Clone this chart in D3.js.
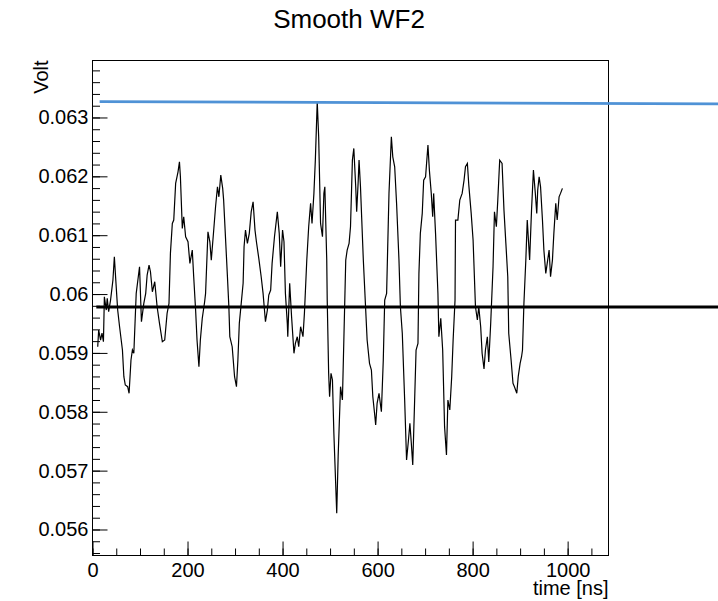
<!DOCTYPE html>
<head>
<meta charset="utf-8">
<style>
body {
    margin: 0;
    background: #fff;
}
text {
    font-family: "Liberation Sans", Arial, Helvetica, sans-serif;
    fill: #000;
}
.tick line {
    stroke: #000;
}
.domain {
    display: none;
}
</style>
</head>
<body>
<div class="wf-viz"></div>

<script src="https://d3js.org/d3.v7.min.js"></script>
<script>
// smoothed waveform, time in ns and amplitude in volt
const timeNs = [
    11, 13, 17, 20, 23, 25, 29, 31, 34, 38,
    43, 46, 49, 53, 57, 63, 66, 69, 74, 77,
    81, 84, 87, 92, 99, 103, 108, 112, 115, 119,
    122, 126, 131, 136, 141, 147, 152, 157, 161, 164,
    168, 171, 175, 180, 183, 185, 189, 192, 196, 201,
    205, 210, 213, 217, 220, 224, 227, 231, 236, 238,
    243, 247, 250, 254, 259, 263, 266, 270, 274, 276,
    284, 287, 289, 294, 299, 303, 306, 309, 313, 317,
    319, 322, 326, 330, 334, 338, 342, 345, 350, 355,
    359, 364, 368, 371, 375, 378, 383, 389, 393, 396,
    400, 403, 406, 410, 411, 415, 419, 424, 427, 431,
    434, 438, 443, 446, 451, 455, 459, 462, 466, 469,
    473, 476, 480, 484, 487, 489, 493, 494, 497, 499,
    502, 505, 508, 514, 517, 522, 526, 529, 533, 536,
    540, 543, 547, 550, 554, 556, 559, 561, 564, 570,
    575, 578, 583, 587, 590, 594, 596, 599, 603, 608,
    612, 615, 619, 624, 629, 632, 636, 640, 645, 648,
    652, 657, 661, 665, 668, 671, 674, 678, 681, 685,
    687, 690, 694, 697, 701, 706, 709, 713, 716, 718,
    722, 727, 729, 733, 737, 741, 745, 748, 752, 756,
    759, 763, 764, 769, 773, 778, 782, 785, 789, 792,
    797, 801, 806, 810, 813, 817, 820, 824, 827, 831,
    834, 838, 843, 846, 850, 853, 857, 862, 866, 870,
    874, 876, 881, 885, 888, 893, 896, 900, 903, 905,
    908, 912, 915, 920, 924, 928, 932, 935, 937, 940,
    943, 947, 950, 954, 957, 961, 964, 968, 971, 975,
    978, 982, 985, 989
];
const volts = [
    0.059105, 0.059389, 0.059219, 0.059338, 0.05919, 0.059954, 0.059728, 0.059927, 0.0597, 0.059898,
    0.060238, 0.060633, 0.060238, 0.059728, 0.059445, 0.059049, 0.058596, 0.058455, 0.058426, 0.058314,
    0.058879, 0.059049, 0.058993, 0.060012, 0.060464, 0.05953, 0.059842, 0.060012, 0.060323, 0.060492,
    0.060379, 0.060039, 0.060209, 0.059784, 0.059502, 0.05919, 0.059219, 0.059672, 0.059842, 0.060691,
    0.0612, 0.061257, 0.06188, 0.062077, 0.062246, 0.061992, 0.061116, 0.061313, 0.060973, 0.060888,
    0.060521, 0.060747, 0.060294, 0.059728, 0.059219, 0.058766, 0.059219, 0.059587, 0.059869, 0.060012,
    0.061058, 0.060888, 0.060577, 0.060973, 0.061482, 0.061822, 0.061652, 0.062021, 0.061795, 0.061596,
    0.060294, 0.059784, 0.059275, 0.059105, 0.058596, 0.058426, 0.058879, 0.059502, 0.059842, 0.060182,
    0.060803, 0.061087, 0.060861, 0.061031, 0.061397, 0.061567, 0.061087, 0.060888, 0.060606, 0.060294,
    0.060012, 0.05953, 0.059728, 0.059983, 0.060068, 0.060521, 0.060973, 0.061397, 0.061031, 0.060464,
    0.061087, 0.060888, 0.060012, 0.059502, 0.059275, 0.060182, 0.059615, 0.058993, 0.059163, 0.059275,
    0.059105, 0.059445, 0.059275, 0.059672, 0.060577, 0.061143, 0.06154, 0.0612, 0.06171, 0.062275,
    0.063265, 0.062671, 0.0612, 0.060973, 0.06171, 0.061822, 0.060577, 0.059898, 0.058653, 0.058256,
    0.058653, 0.05854, 0.057635, 0.056276, 0.057237, 0.058426, 0.0582, 0.059219, 0.060577, 0.060747,
    0.060861, 0.061143, 0.062275, 0.062474, 0.061822, 0.061397, 0.06188, 0.062275, 0.061822, 0.060577,
    0.059728, 0.059219, 0.058823, 0.05871, 0.058256, 0.057945, 0.057776, 0.058144, 0.058314, 0.058001,
    0.058879, 0.059898, 0.060012, 0.06171, 0.062671, 0.062331, 0.062162, 0.06154, 0.060577, 0.059784,
    0.059333, 0.0582, 0.057181, 0.057521, 0.057805, 0.057465, 0.057096, 0.0582, 0.059049, 0.059163,
    0.060351, 0.061031, 0.06137, 0.061936, 0.061992, 0.06253, 0.062106, 0.06171, 0.061313, 0.06171,
    0.061031, 0.060012, 0.059275, 0.059587, 0.059049, 0.057747, 0.057266, 0.0582, 0.05803, 0.058596,
    0.059219, 0.059898, 0.061257, 0.061257, 0.061596, 0.06171, 0.061936, 0.062162, 0.062219, 0.061851,
    0.06137, 0.060917, 0.059784, 0.059559, 0.059784, 0.059445, 0.058993, 0.058726, 0.059049, 0.059275,
    0.058845, 0.059491, 0.060464, 0.061397, 0.061143, 0.061596, 0.062275, 0.062219, 0.061426, 0.060861,
    0.060294, 0.059333, 0.058879, 0.058484, 0.058426, 0.058314, 0.058596, 0.058823, 0.058935, 0.059049,
    0.059842, 0.060577, 0.061257, 0.060577, 0.061426, 0.062106, 0.06171, 0.06137, 0.061766, 0.061992,
    0.061822, 0.061257, 0.060747, 0.060351, 0.060521, 0.060747, 0.060294, 0.060577, 0.061031, 0.06154,
    0.061257, 0.061652, 0.06171, 0.061795
];

// reference lines (start/end in ns, level in volt)
const maxLineT = [15, 1400];
const maxLineV = [0.06327, 0.063229];
const baseLineT = [8, 1400];
const baseLineV = [0.059779, 0.059779];

// axis ticks
const xMajor = [0, 200, 400, 600, 800, 1000];
const yMajor = [0.056, 0.057, 0.058, 0.059, 0.06, 0.061, 0.062, 0.063];

const W = 718, H = 601;
const frame = { left: 92.5, right: 608.5, top: 60.5, bottom: 555.5 };

const svg = d3.select(".wf-viz")
              .append("svg")
                  .attr("width", W)
                  .attr("height", H);
svg.append("rect")
   .attr("width", W)
   .attr("height", H)
   .attr("fill", "#fff");

const xScale = d3.scaleLinear()
                 .domain([0, 1086])
                 .range([frame.left, frame.right]);
const yScale = d3.scaleLinear()
                 .domain([0.055558, 0.063968])
                 .range([frame.bottom, frame.top]);

// minor ticks first, major on top
const xMinor = d3.range(0, 1086, 50);
const yMinor = d3.range(0.0556, 0.06397, 0.0002);

svg.append("g")
   .attr("transform", "translate(0," + frame.bottom + ")")
   .call(d3.axisBottom(xScale).tickValues(xMinor).tickSizeInner(-7).tickSizeOuter(0).tickFormat(""));
svg.append("g")
   .attr("transform", "translate(" + frame.left + ",0)")
   .call(d3.axisLeft(yScale).tickValues(yMinor).tickSizeInner(-7.5).tickSizeOuter(0).tickFormat(""));

const xAxis = svg.append("g")
   .attr("transform", "translate(0," + frame.bottom + ")")
   .call(d3.axisBottom(xScale).tickValues(xMajor).tickSizeInner(-14).tickSizeOuter(0).tickPadding(7)
            .tickFormat(d3.format("d")));
const yAxis = svg.append("g")
   .attr("transform", "translate(" + frame.left + ",0)")
   .call(d3.axisLeft(yScale).tickValues(yMajor).tickSizeInner(-15).tickSizeOuter(0).tickPadding(4)
            .tickFormat(d3.format(".3~f")));

svg.selectAll(".tick text")
   .style("font-size", "20px")
   .style("font-family", "'Liberation Sans', Arial, Helvetica, sans-serif");

// frame
svg.append("rect")
   .attr("x", frame.left)
   .attr("y", frame.top)
   .attr("width", frame.right - frame.left)
   .attr("height", frame.bottom - frame.top)
   .attr("fill", "none")
   .attr("stroke", "#000")
   .attr("stroke-width", 1);

// waveform
const wf = timeNs.map(function(t, i) { return { t: t, v: volts[i] }; });
const line = d3.line()
               .x(function(d) { return xScale(d.t); })
               .y(function(d) { return yScale(d.v); });
svg.append("path")
   .datum(wf)
   .attr("d", line)
   .attr("fill", "none")
   .attr("stroke", "#000")
   .attr("stroke-width", 1.2);

// horizontal reference lines
function refLine(ts, vs, color, width) {
    const pts = ts.map(function(t, i) { return { t: t, v: vs[i] }; });
    svg.append("path")
       .datum(pts)
       .attr("d", line)
       .attr("fill", "none")
       .attr("stroke", color)
       .attr("stroke-width", width);
}
refLine(baseLineT, baseLineV, "#000", 3);
refLine(maxLineT, maxLineV, "#4f92d6", 2.6);

// titles
svg.append("text")
   .attr("x", 349)
   .attr("y", 28)
   .attr("text-anchor", "middle")
   .style("font-size", "26px")
   .text("Smooth WF2");
svg.append("text")
   .attr("x", frame.right)
   .attr("y", 595)
   .attr("text-anchor", "end")
   .style("font-size", "20px")
   .text("time [ns]");
svg.append("text")
   .attr("transform", "translate(48," + frame.top + ") rotate(-90)")
   .attr("text-anchor", "end")
   .style("font-size", "20px")
   .text("Volt");
</script>
</body>
